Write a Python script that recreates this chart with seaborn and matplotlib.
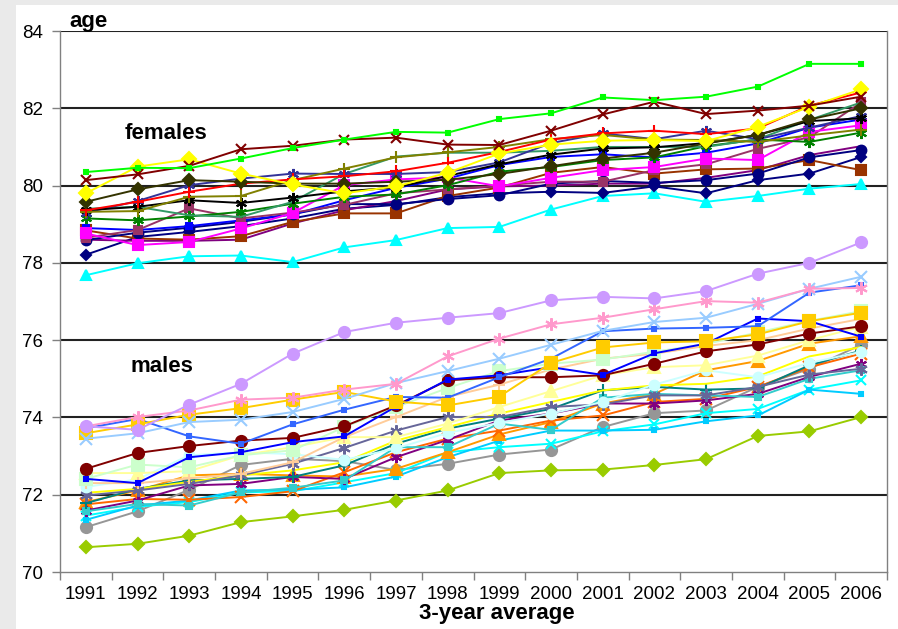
import matplotlib
matplotlib.use("Agg")
import matplotlib.pyplot as plt
import seaborn as sns
import pandas as pd
from matplotlib.patches import Rectangle
from matplotlib.ticker import MultipleLocator, FixedLocator

# ---------------------------------------------------------
# data: life expectancy, 3-year averages 1991..2006
# ---------------------------------------------------------
years = list(range(1991, 2007))

# females
f_lime = [80.35, 80.46, 80.45, 80.70, 80.97, 81.19, 81.39, 81.37, 81.72, 81.87, 82.28, 82.21, 82.30, 82.56, 83.15, 83.15]
f_darkred = [80.14, 80.29, 80.51, 80.94, 81.03, 81.19, 81.24, 81.06, 81.05, 81.42, 81.84, 82.17, 81.85, 81.94, 82.07, 82.30]
f_yellow = [79.80, 80.49, 80.68, 80.31, 80.03, 79.80, 79.98, 80.33, 80.83, 81.06, 81.16, 81.18, 81.15, 81.52, 82.04, 82.49]
f_darkolive = [79.58, 79.90, 80.14, 80.10, 80.05, 80.05, 80.10, 80.15, 80.30, 80.50, 80.70, 80.85, 81.09, 81.31, 81.71, 82.00]
f_red = [79.36, 79.58, 79.84, 80.05, 80.16, 80.24, 80.37, 80.59, 80.87, 81.19, 81.35, 81.42, 81.33, 81.48, 82.07, 82.41]
f_olive = [79.32, 79.34, 79.71, 79.73, 80.14, 80.44, 80.73, 80.86, 81.00, 81.20, 81.31, 81.19, 81.18, 81.13, 81.30, 81.45]
f_black = [79.36, 79.45, 79.62, 79.55, 79.69, 79.85, 79.95, 80.25, 80.55, 80.80, 80.96, 80.99, 81.10, 81.31, 81.67, 81.74]
f_slate = [79.30, 79.60, 80.01, 80.18, 80.31, 80.30, 80.30, 80.35, 80.60, 81.10, 81.35, 81.20, 81.42, 81.20, 81.50, 81.80]
f_seagreen = [79.40, 79.45, 79.23, 79.19, 79.58, 80.30, 80.75, 80.85, 80.85, 80.90, 81.00, 81.00, 81.00, 81.20, 81.70, 82.15]
f_green = [79.15, 79.10, 79.20, 79.32, 79.53, 79.71, 79.77, 80.01, 80.36, 80.48, 80.66, 80.73, 81.02, 81.19, 81.13, 81.37]
f_magenta = [78.76, 78.46, 78.54, 78.89, 79.29, 80.01, 80.16, 80.21, 79.98, 80.20, 80.40, 80.48, 80.70, 80.66, 81.39, 81.56]
f_mauve = [78.65, 78.85, 79.41, 79.15, 79.30, 79.50, 79.80, 79.90, 80.00, 80.10, 80.10, 80.40, 80.55, 80.95, 81.25, 82.15]
f_blue = [78.90, 78.85, 78.95, 79.10, 79.25, 79.62, 79.94, 80.18, 80.53, 80.74, 80.81, 80.73, 80.85, 81.09, 81.50, 81.71]
f_navy_circle = [78.59, 78.78, 78.91, 79.06, 79.26, 79.52, 79.52, 79.65, 79.75, 80.05, 80.12, 80.07, 80.14, 80.31, 80.73, 80.92]
f_brown = [78.84, 78.63, 78.60, 78.69, 79.06, 79.28, 79.28, 79.73, 79.95, 80.33, 80.48, 80.31, 80.42, 80.44, 80.66, 80.40]
f_purple = [78.60, 78.57, 78.57, 78.60, 79.02, 79.36, 79.60, 79.90, 79.98, 80.00, 80.05, 80.05, 80.20, 80.40, 80.79, 81.02]
f_navy_diamond = [78.21, 78.67, 78.80, 78.95, 79.15, 79.40, 79.50, 79.70, 79.80, 79.84, 79.81, 79.98, 79.80, 80.14, 80.31, 80.74]
f_cyan = [77.68, 77.99, 78.17, 78.19, 78.02, 78.40, 78.59, 78.90, 78.93, 79.38, 79.73, 79.80, 79.58, 79.73, 79.92, 80.04]

# males
m_lavender = [73.77, 73.68, 74.33, 74.87, 75.65, 76.21, 76.45, 76.58, 76.70, 77.03, 77.12, 77.08, 77.27, 77.72, 78.00, 78.53]
m_pink = [73.77, 74.01, 74.18, 74.46, 74.51, 74.72, 74.87, 75.58, 76.04, 76.41, 76.58, 76.80, 77.01, 76.97, 77.33, 77.35]
m_lightblue = [73.45, 73.59, 73.88, 73.94, 74.14, 74.48, 74.89, 75.20, 75.52, 75.88, 76.24, 76.47, 76.58, 76.94, 77.33, 77.64]
m_gold = [73.59, 73.82, 74.07, 74.24, 74.46, 74.66, 74.41, 74.31, 74.54, 75.41, 75.81, 75.94, 75.97, 76.15, 76.49, 76.71]
m_royal = [73.72, 73.96, 73.51, 73.32, 73.82, 74.20, 74.53, 74.51, 75.04, 75.52, 76.23, 76.30, 76.32, 76.36, 77.23, 77.42]
m_blue = [72.41, 72.30, 72.97, 73.10, 73.36, 73.51, 74.28, 74.98, 75.09, 75.30, 75.10, 75.66, 75.91, 76.56, 76.49, 76.09]
m_darkred = [72.67, 73.08, 73.26, 73.40, 73.47, 73.77, 74.31, 74.96, 75.04, 75.04, 75.09, 75.39, 75.71, 75.89, 76.17, 76.36]
m_lightgreen = [72.41, 72.78, 72.71, 73.02, 73.15, 73.75, 74.27, 74.76, 75.20, 75.39, 75.50, 75.70, 75.90, 76.20, 76.50, 76.75]
m_peach = [72.30, 72.30, 72.42, 72.54, 72.84, 73.49, 74.01, 74.53, 74.85, 75.24, 75.52, 75.65, 75.85, 76.00, 76.30, 76.55]
m_paleyellow = [72.56, 72.56, 72.61, 73.02, 73.23, 73.49, 73.49, 73.84, 74.27, 74.68, 75.09, 75.30, 75.35, 75.60, 76.00, 76.35]
m_slate = [71.98, 72.11, 72.28, 72.50, 72.80, 73.21, 73.66, 74.01, 74.01, 74.27, 74.34, 74.57, 74.57, 74.79, 75.11, 75.26]
m_yellow = [72.05, 72.15, 72.33, 72.50, 72.63, 72.84, 73.40, 73.75, 74.10, 74.40, 74.70, 74.83, 74.87, 75.06, 75.58, 75.82]
m_teal = [71.78, 72.15, 72.37, 72.41, 72.46, 72.76, 73.32, 73.71, 73.97, 74.22, 74.70, 74.79, 74.72, 74.75, 75.35, 75.73]
m_turquoise = [71.57, 71.76, 71.72, 72.06, 72.18, 72.37, 73.23, 73.23, 73.84, 73.68, 74.51, 74.61, 74.57, 74.53, 75.00, 75.22]
m_purple = [71.59, 71.85, 72.24, 72.28, 72.46, 72.41, 72.97, 73.42, 73.92, 74.10, 74.36, 74.36, 74.44, 74.61, 75.05, 75.39]
m_orangered = [71.75, 71.89, 71.87, 71.94, 72.09, 72.58, 73.10, 73.45, 73.66, 73.92, 74.05, 74.40, 74.48, 74.79, 75.30, 75.65]
m_orange = [71.81, 72.11, 72.50, 72.54, 72.50, 72.47, 72.67, 73.10, 73.56, 73.88, 74.36, 74.61, 75.22, 75.46, 75.91, 76.10]
m_skyblue = [71.35, 71.72, 71.85, 72.11, 72.13, 72.19, 72.47, 72.97, 73.40, 73.66, 73.66, 73.68, 73.90, 74.05, 74.72, 74.61]
m_cyan = [71.46, 71.69, 71.81, 72.06, 72.09, 72.32, 72.56, 73.10, 73.23, 73.32, 73.64, 73.82, 74.11, 74.22, 74.72, 74.96]
m_gray = [71.16, 71.57, 72.13, 72.77, 72.93, 72.87, 72.64, 72.80, 73.04, 73.17, 73.75, 74.11, 74.18, 74.79, 75.26, 75.88]
m_yellowgreen = [70.64, 70.73, 70.94, 71.29, 71.44, 71.61, 71.85, 72.11, 72.56, 72.63, 72.65, 72.77, 72.92, 73.52, 73.64, 74.01]
m_palecyan = [72.20, 72.40, 73.02, 73.10, 73.05, 72.90, 73.20, 73.60, 73.86, 74.10, 74.40, 74.85, 75.22, 75.04, 75.41, 75.70]

# ---------------------------------------------------------
# styles (colour, marker, marker size)
# ---------------------------------------------------------
STAR = (6, 2, 0)
series = [
    (f_cyan, "#00ffff", "^", 7),
    (f_navy_diamond, "#000080", "D", 5),
    (f_purple, "#800080", None, 0),
    (f_brown, "#993300", "s", 7),
    (f_navy_circle, "#000080", "o", 7),
    (f_blue, "#0000ff", "s", 5),
    (f_mauve, "#993366", "s", 6),
    (f_magenta, "#ff00ff", "s", 7),
    (f_green, "#008000", STAR, 8),
    (f_seagreen, "#339966", None, 0),
    (f_slate, "#333399", STAR, 8),
    (f_black, "#000000", STAR, 8),
    (f_olive, "#808000", "+", 9),
    (f_red, "#ff0000", "+", 9),
    (f_darkolive, "#333300", "D", 6),
    (f_yellow, "#ffff00", "D", 7),
    (f_darkred, "#800000", "x", 7),
    (f_lime, "#00ff00", "s", 3),
    (m_yellowgreen, "#99cc00", "D", 6),
    (m_gray, "#969696", "o", 8),
    (m_cyan, "#00ffff", "x", 7),
    (m_skyblue, "#00ccff", "s", 3),
    (m_orange, "#ff9900", "^", 8),
    (m_orangered, "#ff6600", "x", 8),
    (m_purple, "#800080", STAR, 8),
    (m_turquoise, "#33cccc", "s", 4),
    (m_teal, "#008080", "+", 9),
    (m_yellow, "#ffff00", None, 0),
    (m_slate, "#666699", STAR, 9),
    (m_palecyan, "#ccffff", "o", 7),
    (m_paleyellow, "#ffff99", "^", 8),
    (m_peach, "#ffcc99", "+", 9),
    (m_lightgreen, "#ccffcc", "s", 8),
    (m_darkred, "#800000", "o", 8),
    (m_blue, "#0000ff", "s", 3),
    (m_royal, "#3366ff", "s", 3),
    (m_gold, "#ffcc00", "s", 8),
    (m_lightblue, "#99ccff", "x", 8),
    (m_pink, "#ff99cc", STAR, 9),
    (m_lavender, "#cc99ff", "o", 8),
]

# ---------------------------------------------------------
# figure
# ---------------------------------------------------------
sns.set_style("white")
plt.rcParams["font.family"] = ["Liberation Sans", "DejaVu Sans"]
plt.rcParams["text.color"] = "black"
plt.rcParams["xtick.color"] = "black"
plt.rcParams["ytick.color"] = "black"

W, H = 898, 629
fig = plt.figure(figsize=(W / 100, H / 100), dpi=100)
fig.patch.set_facecolor("#eaeaea")
fig.patches.append(Rectangle((16 / W, 0), 1 - 16 / W, 1 - 5 / H,
                             transform=fig.transFigure, facecolor="white",
                             edgecolor="none", zorder=-5))

ax = fig.add_axes([60 / W, (H - 572) / H, (887 - 60) / W, (572 - 31) / H])
ax.set_zorder(2)
ax.set_facecolor("none")

for vals, color, marker, ms in series:
    df = pd.DataFrame({"year": years, "value": vals})
    kw = dict(marker=marker, markersize=ms, markeredgecolor=color,
              markerfacecolor=color, markeredgewidth=1.5) if marker else {}
    sns.lineplot(data=df, x="year", y="value", color=color, linewidth=1.4,
                 ax=ax, zorder=3, **kw)

ax.set_xlim(1990.5, 2006.5)
ax.set_ylim(70, 84)
ax.yaxis.set_major_locator(MultipleLocator(2))
ax.set_xticks(years)
ax.set_xticklabels([str(y) for y in years])
ax.xaxis.set_minor_locator(FixedLocator([y + 0.5 for y in range(1990, 2007)]))

for yv in range(72, 85, 2):
    ax.axhline(yv, color="#222222", linewidth=1.5, zorder=1)

for side in ["left", "bottom", "right"]:
    ax.spines[side].set_color("#808080")
    ax.spines[side].set_linewidth(1.0)
ax.spines["top"].set_visible(False)

ax.tick_params(axis="x", which="major", length=0, pad=10, labelsize=13.5,
               labelcolor="black")
ax.tick_params(axis="x", which="minor", length=6, width=1, color="#808080",
               direction="out", bottom=True)
ax.tick_params(axis="y", which="major", length=6, width=1, color="#808080",
               direction="out", pad=6, labelsize=13.5, left=True,
               labelcolor="black")
ax.set_xlabel("")
ax.set_ylabel("")

fig.text(69 / W, 1 - 27 / H, "age", fontsize=16, fontweight="bold",
         va="baseline", ha="left", color="black")
fig.text(125 / W, 1 - 139 / H, "females", fontsize=16, fontweight="bold",
         va="baseline", ha="left", color="black")
fig.text(130 / W, 1 - 372 / H, "males", fontsize=16, fontweight="bold",
         va="baseline", ha="left", color="black")
fig.text(497 / W, 1 - 619 / H, "3-year average", fontsize=16,
         fontweight="bold", va="baseline", ha="center", color="black")

fig.savefig("out.png", dpi=100, facecolor=fig.get_facecolor())
